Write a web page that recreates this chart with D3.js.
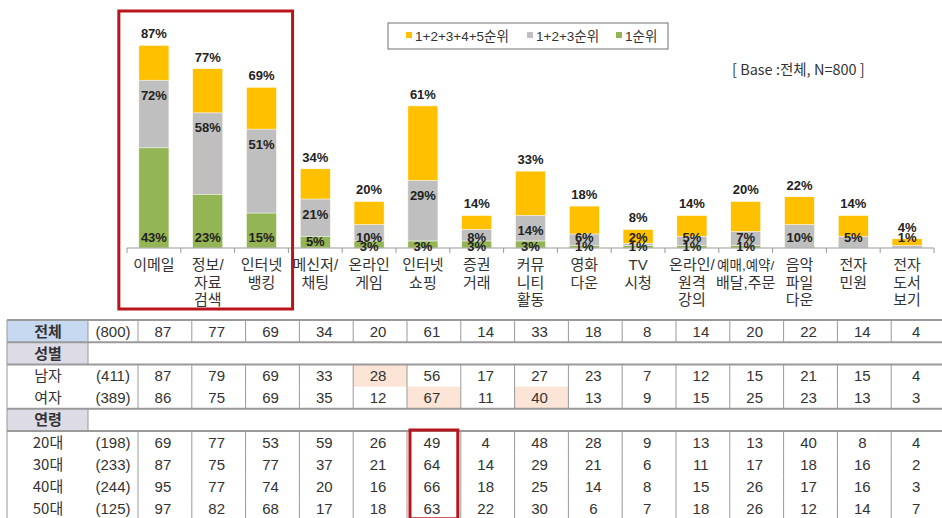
<!DOCTYPE html>
<html>
<head>
<meta charset="utf-8">
<script src="https://cdn.jsdelivr.net/npm/d3@7"></script>
<style>
  body { margin: 0; background: #fff; }
  svg { display: block; }
  text { font-family: "Liberation Sans", Arial, "Noto Sans CJK KR", sans-serif; }
  .kr { font-family: "Noto Sans CJK KR", "Liberation Sans", sans-serif; }
</style>
</head>
<body>
<div id="vis"></div>
<script>
const categories = [
    ["이메일"], ["정보/", "자료", "검색"], ["인터넷", "뱅킹"], ["메신저/", "채팅"],
    ["온라인", "게임"], ["인터넷", "쇼핑"], ["증권", "거래"], ["커뮤", "니티", "활동"],
    ["영화", "다운"], ["TV", "시청"], ["온라인/", "원격", "강의"], ["예매,예약/", "배달,주문"],
    ["음악", "파일", "다운"], ["전자", "민원"], ["전자", "도서", "보기"]
];
const rank5 = [87, 77, 69, 34, 20, 61, 14, 33, 18, 8, 14, 20, 22, 14, 4];
const rank3 = [72, 58, 51, 21, 10, 29, 8, 14, 6, 2, 5, 7, 10, 5, 1];
const rank1 = [43, 23, 15, 5, 3, 3, 3, 3, 1, 1, 1, 1, 0, 0, 0];

const seriesNames = ["1+2+3+4+5순위", "1+2+3순위", "1순위"];
const baseNote = "[ Base :전체, N=800  ]";

// table rows
const rowLabels = ["전체", "성별", "남자", "여자", "연령", "20대", "30대", "40대", "50대"];
const rowN = ["(800)", "", "(411)", "(389)", "", "(198)", "(233)", "(244)", "(125)"];
const rowValues = [
    rank5,
    [],
    [87, 79, 69, 33, 28, 56, 17, 27, 23, 7, 12, 15, 21, 15, 4],
    [86, 75, 69, 35, 12, 67, 11, 40, 13, 9, 15, 25, 23, 13, 3],
    [],
    [69, 77, 53, 59, 26, 49, 4, 48, 28, 9, 13, 13, 40, 8, 4],
    [87, 75, 77, 37, 21, 64, 14, 29, 21, 6, 11, 17, 18, 16, 2],
    [95, 77, 74, 20, 16, 66, 18, 25, 14, 8, 15, 26, 17, 16, 3],
    [97, 82, 68, 17, 18, 63, 22, 30, 6, 7, 18, 26, 12, 14, 7]
];
const highlights = [[2, 4], [3, 5], [3, 7]];

const yellow = "#ffc000", gray = "#bfbfbf", green = "#93b553", red = "#b8141c";
const txt = "#333";

const width = 942, height = 518;
const svg = d3.select("#vis").append("svg")
    .attr("width", width).attr("height", height)
    .attr("viewBox", `0 0 ${width} ${height}`);

const idx = d3.range(categories.length);
const xScale = d3.scaleBand().domain(idx).range([127, 934])
    .paddingInner(0.44).paddingOuter(0.22);
const yScale = d3.scaleLinear().domain([0, 100]).range([248, 15]);
const bw = xScale.bandwidth();
const step = xScale.step();
const base = yScale(0);

// bars
const layers = [
    { vals: rank5, color: yellow },
    { vals: rank3, color: gray },
    { vals: rank1, color: green }
];
layers.forEach(l => {
    svg.append("g").selectAll("rect")
        .data(l.vals)
        .join("rect")
            .attr("x", (d, i) => xScale(i))
            .attr("y", d => yScale(d))
            .attr("width", bw)
            .attr("height", d => base - yScale(d))
            .attr("fill", l.color)
            .attr("stroke", d => d > 0 ? "#fff" : "none")
            .attr("stroke-width", 0.6);
});

// axis
const axis = svg.append("g");
axis.append("line")
    .attr("x1", xScale.range()[0]).attr("x2", xScale.range()[1])
    .attr("y1", base).attr("y2", base)
    .attr("stroke", "#999").attr("stroke-width", 1.2);
axis.selectAll(".tick")
    .data(d3.range(categories.length + 1))
    .join("line")
        .attr("x1", d => xScale.range()[0] + d * step)
        .attr("x2", d => xScale.range()[0] + d * step)
        .attr("y1", base).attr("y2", base + 5)
        .attr("stroke", "#999");

// value labels
const lbl = svg.append("g")
    .style("font-size", "13px").style("font-weight", 700)
    .attr("fill", "#222").attr("text-anchor", "middle");

lbl.selectAll(".l5").data(rank5).join("text")
    .attr("x", (d, i) => xScale(i) + bw / 2)
    .attr("y", d => yScale(d) - 7)
    .text(d => `${d}%`);

lbl.selectAll(".l3").data(rank3).join("text")
    .attr("x", (d, i) => xScale(i) + bw / 2)
    .attr("y", d => Math.min(yScale(d) + 15, base - 11) + 4.5)
    .text(d => d > 0 ? `${d}%` : "");

lbl.selectAll(".l1").data(rank1).join("text")
    .attr("x", (d, i) => xScale(i) + bw / 2)
    .attr("y", d => Math.min(base - 2, Math.max(base - 11, yScale(d) + 5)) + 4.5)
    .text(d => d > 0 ? `${d}%` : "");

// category labels
const cat = svg.append("g").attr("class", "kr")
    .style("font-size", "15px").attr("fill", txt).attr("text-anchor", "middle");
cat.selectAll("text").data(categories).join("text")
    .attr("x", (d, i) => xScale(i) + bw / 2)
    .attr("y", base + 22)
    .selectAll("tspan")
    .data(d => d)
    .join("tspan")
        .attr("x", function () { return this.parentNode.getAttribute("x"); })
        .attr("dy", (d, i) => i === 0 ? 0 : 17.5)
        .style("font-size", d => d.length > 5 ? "13.5px" : null)
        .text(d => d);

// red highlight box around first three categories
svg.append("rect")
    .attr("x", xScale(0) - 20).attr("y", 11)
    .attr("width", xScale(2) + bw + 16 - (xScale(0) - 20))
    .attr("height", 298)
    .attr("fill", "none").attr("stroke", red).attr("stroke-width", 3);

// legend
const legend = svg.append("g").attr("class", "kr");
legend.append("rect")
    .attr("x", 388).attr("y", 23).attr("width", 280).attr("height", 26)
    .attr("fill", "#fff").attr("stroke", "#888").attr("stroke-width", 1.2);
const legendX = [406, 527, 616];
const legendColors = [yellow, gray, green];
seriesNames.forEach((s, i) => {
    legend.append("rect")
        .attr("x", legendX[i]).attr("y", 32).attr("width", 6).attr("height", 6)
        .attr("fill", legendColors[i]);
    legend.append("text")
        .attr("x", legendX[i] + 9).attr("y", 41)
        .style("font-size", "13.5px").attr("fill", txt)
        .text(s);
});

svg.append("text").attr("class", "kr")
    .attr("x", 732).attr("y", 75)
    .style("font-size", "14.5px").attr("fill", txt)
    .text(baseNote);

// table
const colScale = d3.scaleBand().domain(idx).range([138, 945]);
const rowScale = d3.scaleBand().domain(d3.range(rowLabels.length)).range([320, 320 + 22.2 * 9]);
const rh = rowScale.bandwidth();
const isHeader = i => rowValues[i].length === 0;
const tbl = svg.append("g");

// fills
tbl.append("rect").attr("x", 7).attr("y", rowScale(0)).attr("width", 81).attr("height", rh)
    .attr("fill", "#c6d9f0");
rowLabels.forEach((r, i) => {
    if (isHeader(i)) {
        tbl.append("rect").attr("x", 7).attr("y", rowScale(i)).attr("width", 81).attr("height", rh)
            .attr("fill", "#dcdbe6");
    }
});
highlights.forEach(([r, c]) => {
    tbl.append("rect")
        .attr("x", colScale(c)).attr("y", rowScale(r))
        .attr("width", colScale.bandwidth()).attr("height", rh)
        .attr("fill", "#fce4d6");
});

// vertical lines
rowLabels.forEach((r, i) => {
    if (isHeader(i)) {
        tbl.append("line").attr("x1", 88).attr("x2", 88)
            .attr("y1", rowScale(i)).attr("y2", rowScale(i) + rh)
            .attr("stroke", "#999");
        return;
    }
    const xs = d3.range(categories.length).map(c => colScale(c));
    if (i === 0) xs.push(88);
    tbl.selectAll(null).data(xs).join("line")
        .attr("x1", d => d).attr("x2", d => d)
        .attr("y1", rowScale(i)).attr("y2", rowScale(i) + rh)
        .attr("stroke", "#999");
});
tbl.append("line").attr("x1", 7).attr("x2", 7)
    .attr("y1", rowScale(0)).attr("y2", height)
    .attr("stroke", "#999");

// horizontal lines
const hLines = [0, 1, 2, 4, 5];
tbl.selectAll(".hl").data(hLines).join("line")
    .attr("x1", 7).attr("x2", width)
    .attr("y1", d => rowScale(d)).attr("y2", d => rowScale(d))
    .attr("stroke", "#9a9a9a").attr("stroke-width", 2);

// texts
rowLabels.forEach((r, i) => {
    const y = rowScale(i) + rh / 2 + 5.5;
    tbl.append("text").attr("class", "kr")
        .attr("x", 48).attr("y", y).attr("text-anchor", "middle")
        .style("font-size", "15px")
        .style("font-weight", (i === 0 || isHeader(i)) ? 700 : 400)
        .attr("fill", txt).text(r);
    tbl.append("text")
        .attr("x", 113).attr("y", y).attr("text-anchor", "middle")
        .style("font-size", "15px").attr("fill", txt).text(rowN[i]);
    tbl.selectAll(null).data(rowValues[i]).join("text")
        .attr("x", (d, c) => colScale(c) + colScale.bandwidth() / 2 - 2)
        .attr("y", y).attr("text-anchor", "middle")
        .style("font-size", "15px").attr("fill", txt)
        .text(d => d);
});

// red box in table: 인터넷 쇼핑, age rows
tbl.append("rect")
    .attr("x", colScale(5) + 3).attr("y", rowScale(5) - 1)
    .attr("width", colScale.bandwidth() - 6)
    .attr("height", rowScale(8) + rh - rowScale(5))
    .attr("fill", "none").attr("stroke", red).attr("stroke-width", 3);
</script>
</body>
</html>
